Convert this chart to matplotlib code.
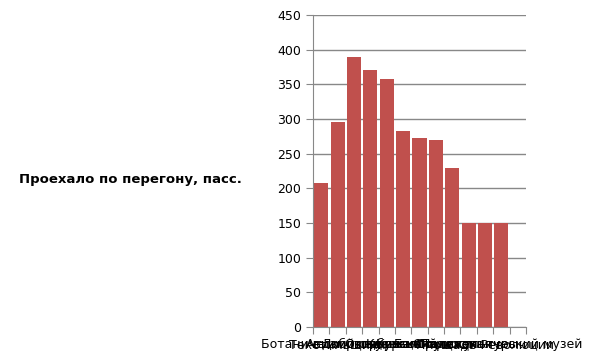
import matplotlib
matplotlib.use("Agg")
import matplotlib.pyplot as plt
import numpy as np

# station names (labels overlap in the original, so these are approximate)
stations = ["Ботанический сад", "Текстильщики", "Авиамоторная", "Добрынинская",
            "Октябрьская", "Курская", "Кузнецкий мост", "Белорусская",
            "Смоленская", "Парк культуры", "Площадь Революции", "Политехнический музей"]
passengers = [207, 295, 389, 371, 358, 283, 272, 270, 230, 150, 150, 150]
yticks = [0, 50, 100, 150, 200, 250, 300, 350, 400, 450]

fig = plt.figure(figsize=(5.89, 3.59), dpi=100)
ax = fig.add_axes([313/589, 32/359, 213/589, 312/359])

x = np.arange(len(stations))
ax.bar(x, passengers, width=0.86, color="#C0504D", zorder=2)

ax.set_xlim(-0.5, len(stations) + 0.5)
ax.set_ylim(0, 450)
ax.set_yticks(yticks)
ax.set_xticks(np.arange(-0.5, len(stations) + 1, 1.0))
ax.set_xticklabels([])
ax.set_xticks(x, minor=True)
ax.set_xticklabels(stations, minor=True, fontsize=9)
ax.tick_params(axis="x", which="minor", length=0, pad=8)
ax.tick_params(axis="x", which="major", length=5, color="#888888")
ax.tick_params(axis="y", length=5, color="#888888", labelsize=9)

ax.grid(axis="y", color="#888888", linewidth=1, zorder=1)
for s in ["top", "right"]:
    ax.spines[s].set_visible(False)
ax.spines["left"].set_color("#888888")
ax.spines["bottom"].set_color("#888888")

fig.text(130/589, 180/359, "Проехало по перегону, пасс.", ha="center", va="center",
         fontsize=9.5, fontweight="bold")

fig.savefig("out.png", dpi=100)
